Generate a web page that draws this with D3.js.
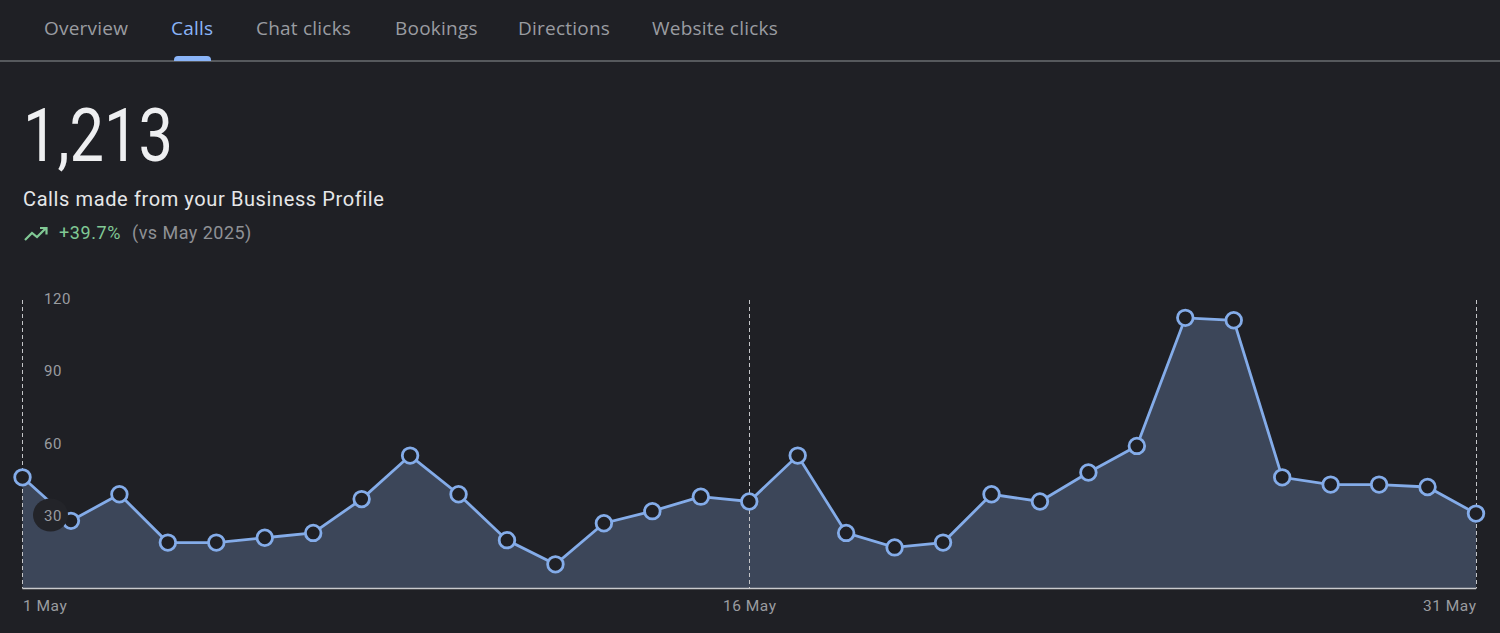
<!DOCTYPE html>
<html>
<head>
<meta charset="utf-8">
<script src="https://cdn.jsdelivr.net/npm/d3@7"></script>
<style>
html, body { margin: 0; padding: 0; background: #1f2025; overflow: hidden; }
svg { display: block; }
text { font-family: "Open Sans", Roboto, sans-serif; }
</style>
</head>
<body>
<svg id="chart" width="1500" height="633"></svg>
<script>
const tabs = ["Overview", "Calls", "Chat clicks", "Bookings", "Directions", "Website clicks"]
const tabX = [44, 171, 256, 395, 518, 652]
const days = d3.range(1, 32)
const calls = [46, 28, 39, 19, 19, 21, 23, 37, 55, 39, 20, 10, 27, 32, 38, 36, 55, 23, 17, 19, 39, 36, 48, 59, 112, 111, 46, 43, 43, 42, 31]
const yTicks = [30, 60, 90, 120]
const xTicks = [1, 16, 31]

const bg = "#1f2025"
const blue = "#84ace9"
const svg = d3.select("#chart")

const x = d3.scaleLinear().domain([1, 31]).range([22.5, 1476])
const y = d3.scaleLinear().domain([0, 120]).range([588.5, 298.5])

// Tabs
svg.selectAll(".tab").data(tabs).join("text")
    .attr("class", "tab")
    .attr("x", (d, i) => tabX[i])
    .attr("y", 35)
    .attr("font-size", 19)
    .attr("letter-spacing", 0.22)
    .attr("fill", d => d === "Calls" ? "#8ab4f8" : "#9a9ca1")
    .text(d => d)
svg.append("line").attr("x1", 0).attr("x2", 1500).attr("y1", 61).attr("y2", 61)
    .attr("stroke", "#6a6c70").attr("stroke-width", 1.5)
svg.append("path").attr("d", "M174 61v-1a4 4 0 0 1 4-4h29a4 4 0 0 1 4 4v1z").attr("fill", "#8ab4f8")

// Headline
svg.append("text").attr("x", 23).attr("y", 161).attr("font-size", 75)
    .style("font-family", "Roboto").attr("font-weight", 400)
    .attr("textLength", 150).attr("lengthAdjust", "spacingAndGlyphs")
    .attr("fill", "#eeeff1").text("1,213")
svg.append("text").attr("x", 23).attr("y", 206).attr("font-size", 20)
    .style("font-family", "Roboto").attr("letter-spacing", 0.61)
    .attr("fill", "#e6e7e9").text("Calls made from your Business Profile")
svg.append("path").attr("d", "M25 240l7-7 5 4 9-9M40 228h6.5v6.5")
    .attr("fill", "none").attr("stroke", "#81c995").attr("stroke-width", 2.2)
svg.append("text").attr("x", 59).attr("y", 239).attr("font-size", 18)
    .style("font-family", "Roboto").attr("letter-spacing", 0.6)
    .attr("fill", "#81c995").text("+39.7%")
svg.append("text").attr("x", 132).attr("y", 239).attr("font-size", 18)
    .style("font-family", "Roboto").attr("letter-spacing", 0.47)
    .attr("fill", "#8f9195").text("(vs May 2025)")

// Area and line
const area = d3.area().x((d, i) => x(days[i])).y0(y(0)).y1(d => y(d))
const line = d3.line().x((d, i) => x(days[i])).y(d => y(d))

svg.append("path").attr("d", area(calls)).attr("fill", "#3c4659")

// Dashed guides
svg.selectAll(".guide").data(xTicks).join("line")
    .attr("class", "guide")
    .attr("x1", d => Math.floor(x(d)) + 0.5).attr("x2", d => Math.floor(x(d)) + 0.5)
    .attr("y1", 300).attr("y2", y(0))
    .attr("stroke", "#c4c5c8").attr("stroke-width", 1)
    .attr("stroke-dasharray", "4 3")

// Baseline
svg.append("line").attr("x1", x(1)).attr("x2", x(31)).attr("y1", y(0)).attr("y2", y(0))
    .attr("stroke", "#c9cacd").attr("stroke-width", 1.5)

svg.append("path").attr("d", line(calls)).attr("fill", "none")
    .attr("stroke", blue).attr("stroke-width", 2.8)

svg.selectAll(".pt").data(calls).join("circle")
    .attr("class", "pt")
    .attr("cx", (d, i) => x(days[i]))
    .attr("cy", d => y(d))
    .attr("r", 7.8)
    .attr("fill", bg)
    .attr("stroke", blue)
    .attr("stroke-width", 2.8)

// Dark blob behind the 30 label
svg.append("ellipse").attr("cx", 50.5).attr("cy", y(30) - 1).attr("rx", 17.5).attr("ry", 16.5).attr("fill", "#232429")

// Axes
const yAxis = d3.axisLeft(y).tickValues(yTicks).tickSize(0).tickPadding(0)
const yG = svg.append("g").attr("transform", "translate(44,0)").call(yAxis)
yG.select(".domain").remove()
yG.selectAll("text").attr("text-anchor", "start").attr("font-size", 15)
    .style("font-family", "Roboto").attr("letter-spacing", 0.6).attr("fill", "#9a9ca0")

const xAxis = d3.axisBottom(x).tickValues(xTicks).tickSize(0).tickPadding(0).tickFormat(d => d + " May")
const xG = svg.append("g").attr("transform", "translate(0,599.5)").call(xAxis)
xG.select(".domain").remove()
xG.selectAll("text")
    .attr("text-anchor", d => d === 1 ? "start" : d === 31 ? "end" : "middle")
    .attr("font-size", 15.5)
    .style("font-family", "Roboto").attr("letter-spacing", 0.5).attr("fill", "#9a9ca0")
</script>
</body>
</html>
